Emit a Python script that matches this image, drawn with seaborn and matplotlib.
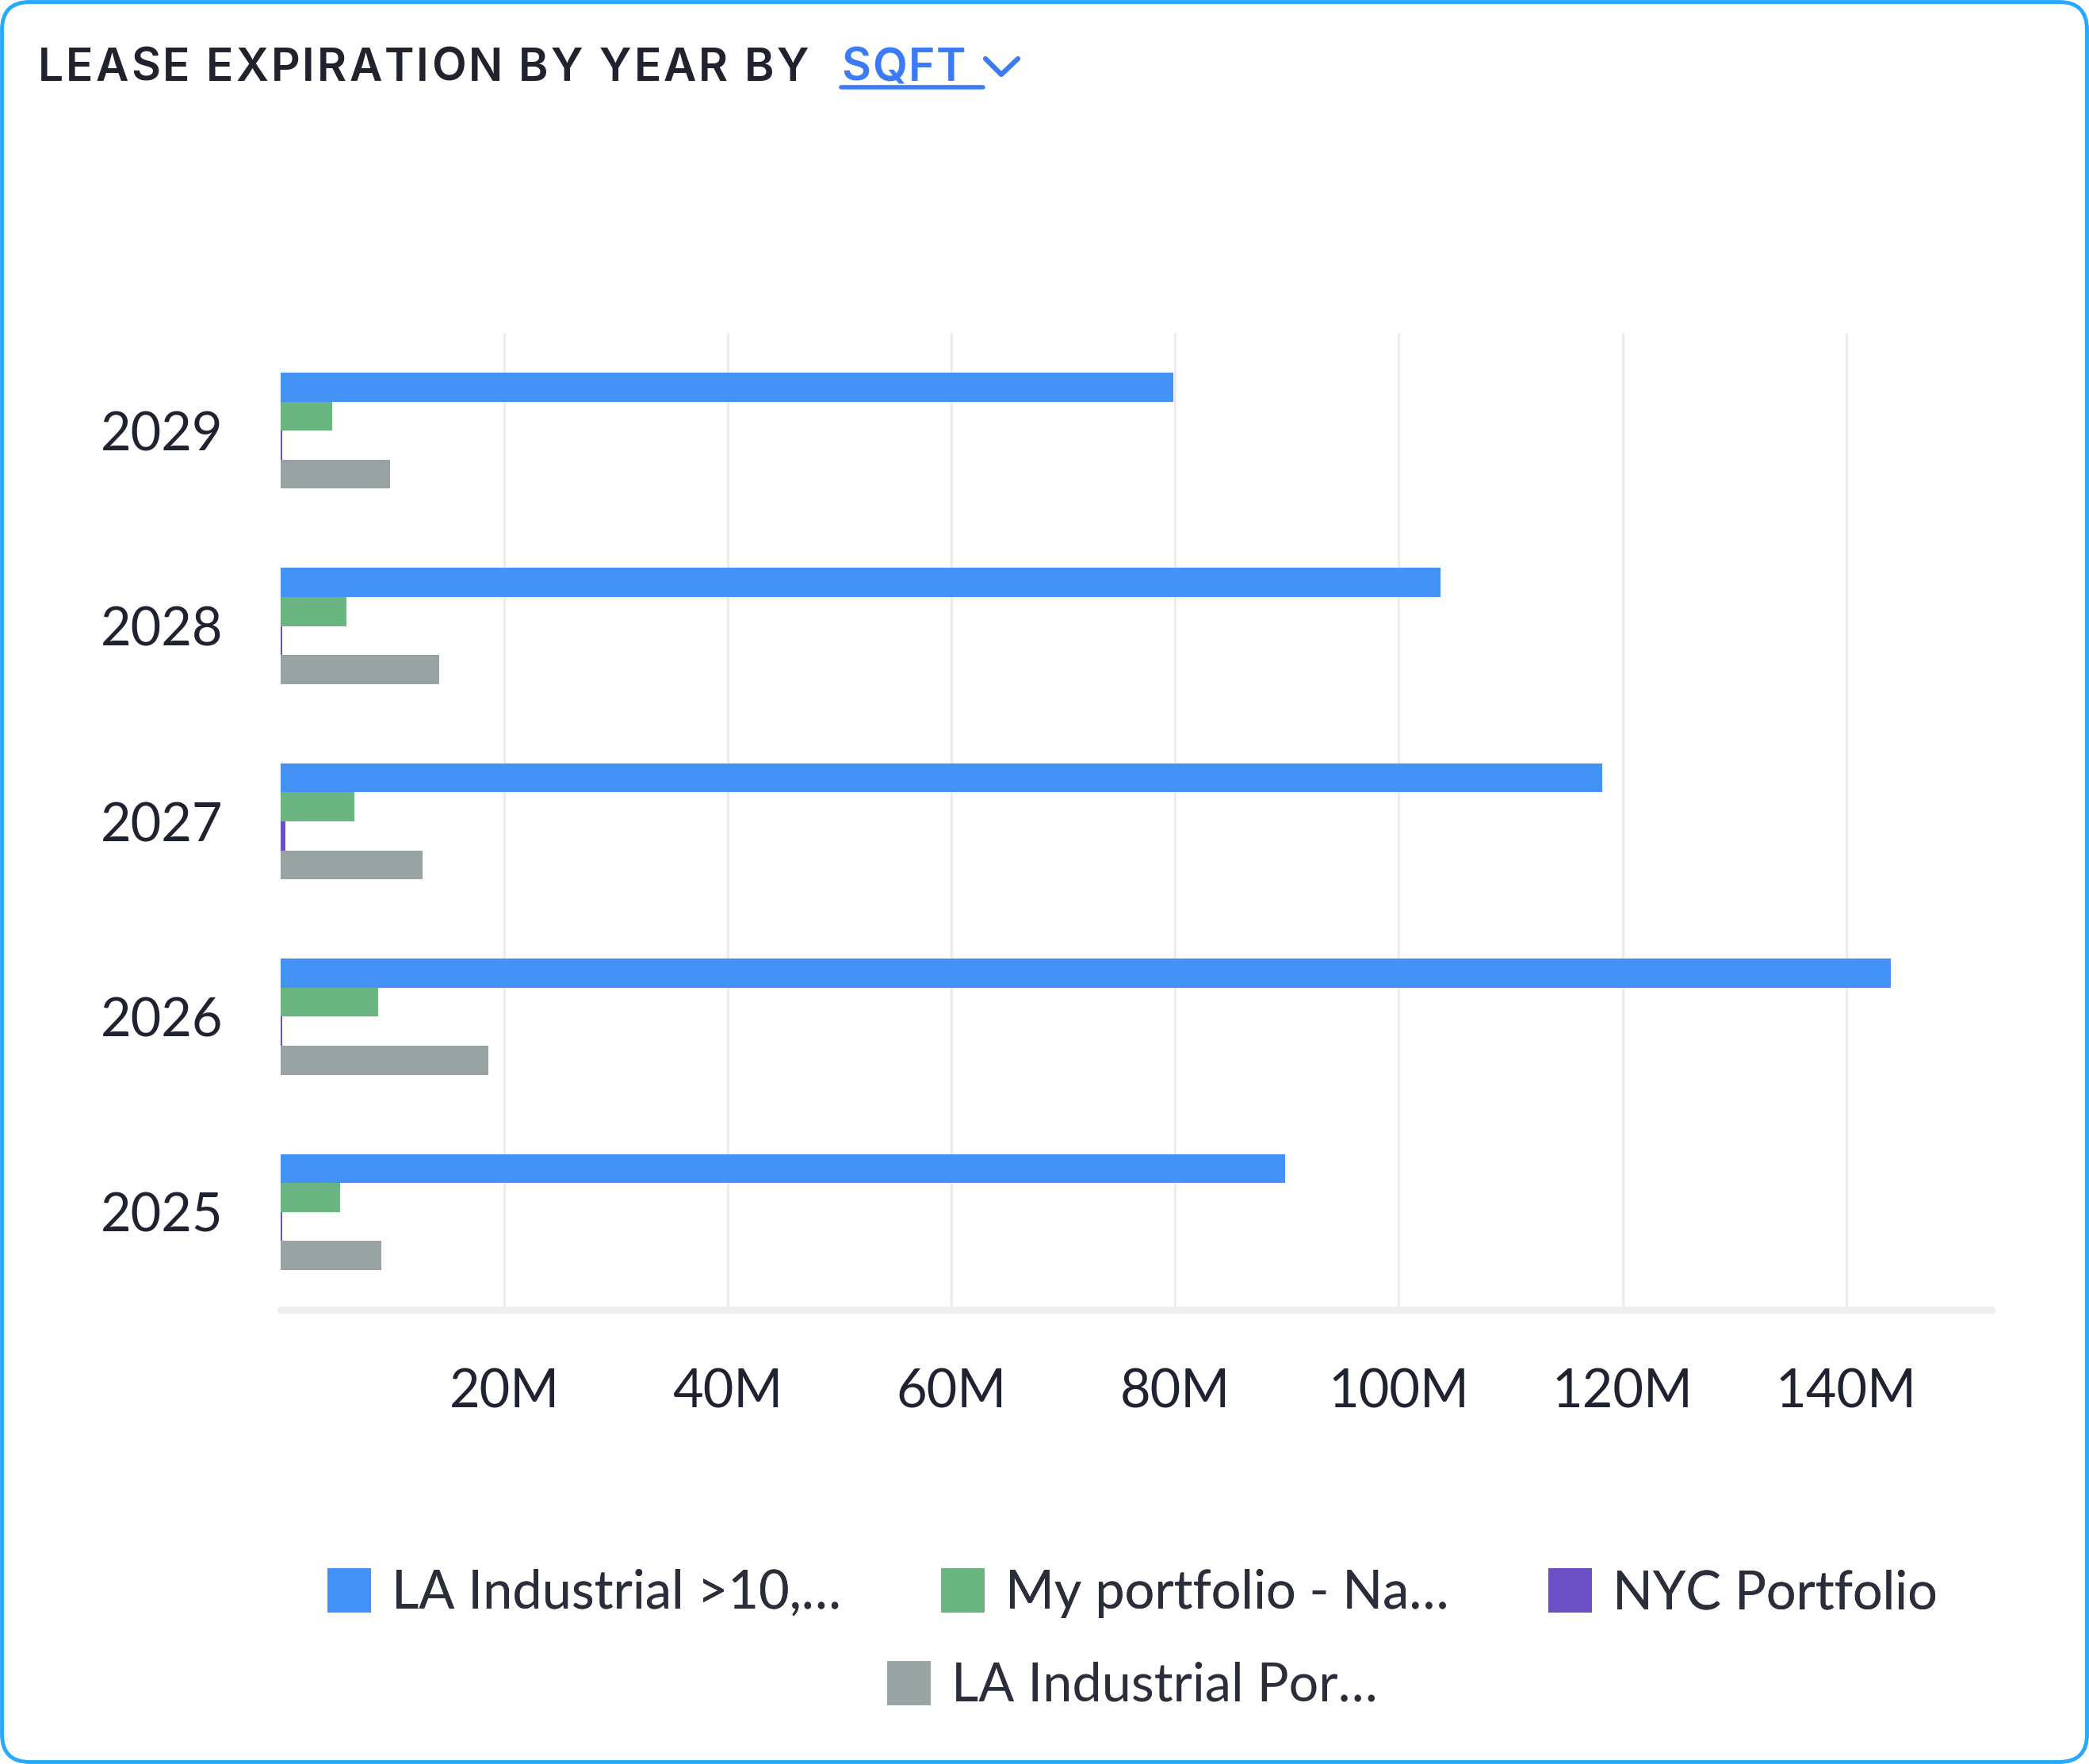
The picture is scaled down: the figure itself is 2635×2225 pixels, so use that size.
import matplotlib
matplotlib.use("Agg")
import matplotlib.pyplot as plt
import seaborn as sns
import pandas as pd
from matplotlib.patches import Patch, FancyBboxPatch
from matplotlib.lines import Line2D
from matplotlib.ticker import FixedLocator, FuncFormatter

# data (millions of sqft)
years = ["2029", "2028", "2027", "2026", "2025"]
portfolios = ["LA Industrial >10,…", "My portfolio - Na…", "NYC Portfolio", "LA Industrial Por…"]
la_industrial_10 = [79.8, 103.7, 118.2, 144.0, 89.8]
my_portfolio = [4.6, 5.9, 6.6, 8.7, 5.3]
nyc_portfolio = [0.12, 0.12, 0.4, 0.12, 0.12]
la_industrial_por = [9.8, 14.2, 12.7, 18.6, 9.0]
x_ticks = [20, 40, 60, 80, 100, 120, 140]
colors = ["#4492F5", "#6BB583", "#6B4FC4", "#97A4A3"]

W, H = 2635, 2225
DPI = 100

sns.set_style("white")
plt.rcParams['font.family'] = ['Lato', 'DejaVu Sans']

rows = []
for name, vals in zip(portfolios, [la_industrial_10, my_portfolio, nyc_portfolio, la_industrial_por]):
    for y, v in zip(years, vals):
        rows.append((y, name, v))
df = pd.DataFrame(rows, columns=["Year", "Portfolio", "SQFT"])

fig = plt.figure(figsize=(W / DPI, H / DPI), dpi=DPI)
fig.patch.set_facecolor("white")
renderer = fig.canvas.get_renderer()


def px(x, y):
    return x / W, 1 - y / H


def text_w(s, **kw):
    t = fig.text(0, 0, s, **kw)
    w = t.get_window_extent(renderer).width
    t.remove()
    return w


def tracked_text(x0, x1, y, s, **kw):
    # spread the letters so the string runs from x0 to x1 (pixels)
    base = text_w("H", **kw)
    natural = text_w(s, **kw)
    track = (x1 - x0 - natural) / (len(s) - 1)
    for i, ch in enumerate(s):
        if ch == " ":
            continue
        off = text_w(s[:i] + "H", **kw) - base if i else 0
        fig.text((x0 + off + i * track) / W, 1 - y / H, ch, va="baseline", ha="left", **kw)


left, top = px(354, 420)
right, bottom = px(2512, 1652)
ax = fig.add_axes([left, bottom, right - left, top - bottom])

sns.barplot(data=df, y="Year", x="SQFT", hue="Portfolio", order=years, hue_order=portfolios,
            palette=colors, width=0.594, orient="h", errorbar=None, saturation=1,
            linewidth=0, legend=False, ax=ax)

ax.set_xlim(0, 153)
ax.set_ylim(4.5, -0.5)
ax.xaxis.set_major_locator(FixedLocator(x_ticks))
ax.xaxis.set_major_formatter(FuncFormatter(lambda v, p: f"{int(v)}M"))
ax.set_xlabel("")
ax.set_ylabel("")
ax.xaxis.grid(True, color="#ececec", linewidth=2.2)
ax.yaxis.grid(False)
ax.set_axisbelow(True)
for s in ["top", "right", "left"]:
    ax.spines[s].set_visible(False)
ax.spines["bottom"].set_color("#eeeeee")
ax.spines["bottom"].set_linewidth(6.5)
ax.spines["bottom"].set_capstyle("round")
ax.tick_params(axis="y", length=0, labelsize=48, pad=52, labelcolor="#1f2230")
ax.tick_params(axis="x", length=0, labelsize=48, pad=53, labelcolor="#1f2230")

# title
title_kw = dict(fontsize=41, fontweight="semibold", family=['Inter', 'DejaVu Sans'])
tracked_text(48, 1020, 102, "LEASE EXPIRATION BY YEAR BY", color="#20232e", **title_kw)
tracked_text(1061, 1218, 102, "SQFT", color="#3B7CF6", **title_kw)
ux0, uy = px(1061, 110)
ux1, _ = px(1240, 110)
fig.add_artist(Line2D([ux0, ux1], [uy, uy], transform=fig.transFigure, color="#3B7CF6", linewidth=4))
c0 = px(1243, 74)
c1 = px(1263, 94)
c2 = px(1284, 74)
fig.add_artist(Line2D([c0[0], c1[0], c2[0]], [c0[1], c1[1], c2[1]], transform=fig.transFigure,
                      color="#3B7CF6", linewidth=4.5, solid_capstyle="round", solid_joinstyle="round"))

# legend, two centred rows
handles = [Patch(facecolor=c, edgecolor=c, linewidth=5, joinstyle="round") for c in colors]
lx, ly1 = px(1430, 2010)
_, ly2 = px(1430, 2127)
leg_kw = dict(frameon=False, fontsize=48, handlelength=0.72, handleheight=0.75,
              handletextpad=0.45, columnspacing=1.93, labelcolor="#2a2d3a", borderaxespad=0)
leg1 = fig.legend(handles[:3], portfolios[:3], loc="center", bbox_to_anchor=(lx, ly1), ncol=3, **leg_kw)
fig.add_artist(leg1)
fig.legend(handles[3:], portfolios[3:], loc="center", bbox_to_anchor=(lx, ly2), ncol=1, **leg_kw)

# card border
fig.add_artist(FancyBboxPatch((0.025, 0.025), W / DPI - 0.05, H / DPI - 0.05,
                              boxstyle="round,pad=0,rounding_size=0.35",
                              transform=fig.dpi_scale_trans, fill=False,
                              edgecolor="#27A9FF", linewidth=3.5))

fig.savefig("out.png", dpi=DPI)
